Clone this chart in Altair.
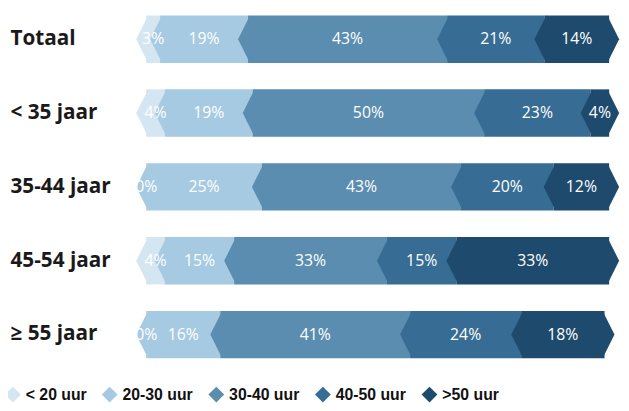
import altair as alt
import pandas as pd

categories = ["Totaal", "< 35 jaar", "35-44 jaar", "45-54 jaar", "≥ 55 jaar"]
segments = ["< 20 uur", "20-30 uur", "30-40 uur", "40-50 uur", ">50 uur"]
colors = ["#d3e6f2", "#a6cae1", "#5a8db0", "#376d94", "#1e4b6d"]

totaal = [3, 19, 43, 21, 14]
onder_35 = [4, 19, 50, 23, 4]
j35_44 = [0, 25, 43, 20, 12]
j45_54 = [4, 15, 33, 15, 33]
boven_55 = [0, 16, 41, 24, 18]

rows_values = [totaal, onder_35, j35_44, j45_54, boven_55]
rows = []
for cat, vals in zip(categories, rows_values):
    for i, (seg, v) in enumerate(zip(segments, vals)):
        rows.append({"cat": cat, "seg": seg, "order": i, "value": v, "label": f"{v}%"})
df = pd.DataFrame(rows)

W = 469
H = 360

base = alt.Chart(df).transform_stack(
    stack="value", groupby=["cat"], sort=[alt.SortField("order", order="ascending")], as_=["x0", "x1"]
).transform_calculate(mid="(datum.x0 + datum.x1) / 2")

xscale = alt.Scale(domain=[0, 100], nice=False, zero=True)
yenc = alt.Y(
    "cat:N", sort=categories,
    scale=alt.Scale(range=[-8.4, 365.6], paddingInner=0, paddingOuter=0),
    axis=alt.Axis(title=None, labelAlign="left", labelPadding=138, ticks=False, tickSize=0,
                  domain=False, labelFont="Open Sans", labelFontWeight="bold",
                  labelFontSize=21, labelColor="#1a1a1a"),
)
color = alt.Color(
    "seg:N", sort=segments,
    scale=alt.Scale(domain=segments, range=colors),
    legend=alt.Legend(title=None, orient="none", legendX=-143, legendY=381, direction="horizontal",
                      columns=5, symbolType="diamond", symbolSize=256, symbolStrokeWidth=0,
                      symbolOpacity=1, labelFont="Liberation Sans", labelFontWeight="bold",
                      labelFontSize=16, labelColor="#111111", labelOffset=5, columnPadding=15,
                      padding=0),
)

bars = base.mark_bar(size=48, cornerRadius=0).encode(
    x=alt.X("x0:Q", scale=xscale, axis=None),
    x2="x1:Q",
    y=yenc,
    color=color,
    order=alt.Order("order:Q"),
)

left_tri = base.mark_point(
    shape="M0.08,-1L-0.42,0L0.08,1Z", size=2304, filled=True, opacity=1, strokeWidth=0
).encode(
    x=alt.X("x0:Q", scale=xscale, axis=None),
    y=yenc,
    color=color,
    order=alt.Order("order:Q"),
)

right_tri = base.transform_filter("datum.order == 4").mark_point(
    shape="M-0.08,-1L0.42,0L-0.08,1Z", size=2304, filled=True, opacity=1, strokeWidth=0
).encode(
    x=alt.X("x1:Q", scale=xscale, axis=None),
    y=yenc,
    color=color,
)

labels = base.mark_text(color="white", font="Open Sans", fontSize=16).encode(
    x=alt.X("mid:Q", scale=xscale, axis=None),
    y=yenc,
    text="label:N",
)

chart = alt.layer(bars, left_tri, right_tri, labels).properties(
    width=W, height=H,
    autosize=alt.AutoSizeParams(type="none"),
    padding={"left": 140, "top": 0, "right": 12, "bottom": 43},
).configure_view(stroke=None)

chart.save("out.html", embed_options={"renderer": "svg", "actions": False})
